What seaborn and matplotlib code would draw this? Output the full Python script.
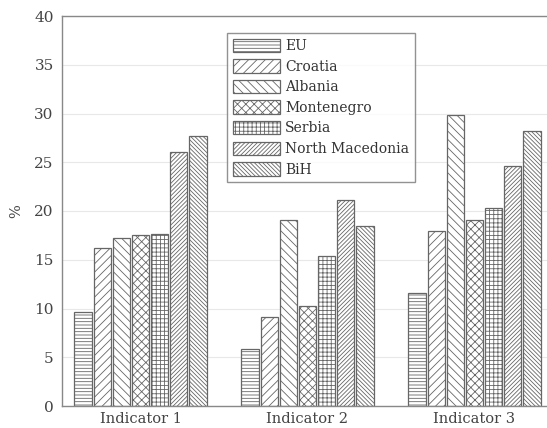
import matplotlib
matplotlib.use("Agg")
import matplotlib.pyplot as plt
import seaborn as sns
import pandas as pd

indicators = ["Indicator 1", "Indicator 2", "Indicator 3"]
countries = ["EU", "Croatia", "Albania", "Montenegro", "Serbia", "North Macedonia", "BiH"]
values = {
    "EU":              [9.6, 5.8, 11.6],
    "Croatia":         [16.2, 9.1, 18.0],
    "Albania":         [17.2, 19.1, 29.8],
    "Montenegro":      [17.5, 10.3, 19.1],
    "Serbia":          [17.6, 15.4, 20.3],
    "North Macedonia": [26.1, 21.1, 24.6],
    "BiH":             [27.7, 18.5, 28.2],
}
yticks = [0, 5, 10, 15, 20, 25, 30, 35, 40]
hatches = ["-----", "////", "\\\\\\\\", "xxxx", "++++", "////////", "\\\\\\\\\\\\\\\\"]

rows = []
for c in countries:
    for ind, v in zip(indicators, values[c]):
        rows.append({"indicator": ind, "country": c, "value": v})
df = pd.DataFrame(rows)

sns.set_style("white")
plt.rcParams["font.family"] = ["DejaVu Serif"]
plt.rcParams["hatch.linewidth"] = 0.6
plt.rcParams["hatch.color"] = "#777777"

fig = plt.figure(figsize=(5.47, 4.28), dpi=100)
ax = fig.add_axes([62 / 547, (428 - 406) / 428, (558 - 62) / 547, (406 - 16) / 428])

sns.barplot(data=df, x="indicator", y="value", hue="country", hue_order=countries,
            order=indicators, palette=["white"] * len(countries), edgecolor="#666666",
            linewidth=0.9, width=0.8, gap=0.08, legend=False, ax=ax)

for cont, h in zip(ax.containers, hatches):
    for p in cont.patches:
        p.set_hatch(h)
        p.set_edgecolor("#666666")

ax.set_xlim(-0.47, 2.5)
ax.set_ylim(0, 40)
ax.set_yticks(yticks)
ax.set_xlabel("")
ax.set_ylabel("%", color="#444444", fontsize=10.5, labelpad=8)
ax.yaxis.grid(True, color="#e8e8e8", linewidth=0.8)
ax.set_axisbelow(True)
for s in ax.spines.values():
    s.set_color("#888888")
    s.set_linewidth(1.0)
ax.tick_params(axis="y", direction="in", length=3, colors="#888888",
               labelcolor="#444444", labelsize=11, pad=6)
ax.tick_params(axis="x", length=0, pad=4, labelcolor="#444444", labelsize=10.5)

leg = ax.legend(ax.containers, countries, loc="upper left",
                bbox_to_anchor=(227 / 547, 1 - 33 / 428), bbox_transform=fig.transFigure,
                frameon=True, fancybox=False, fontsize=10, handlelength=3.4,
                handleheight=1.1, labelspacing=0.45, borderpad=0.4, handletextpad=0.4,
                borderaxespad=0)
leg.get_frame().set_edgecolor("#777777")
leg.get_frame().set_linewidth(1.0)
for t in leg.get_texts():
    t.set_color("#333333")

fig.savefig("out.png", dpi=100)
